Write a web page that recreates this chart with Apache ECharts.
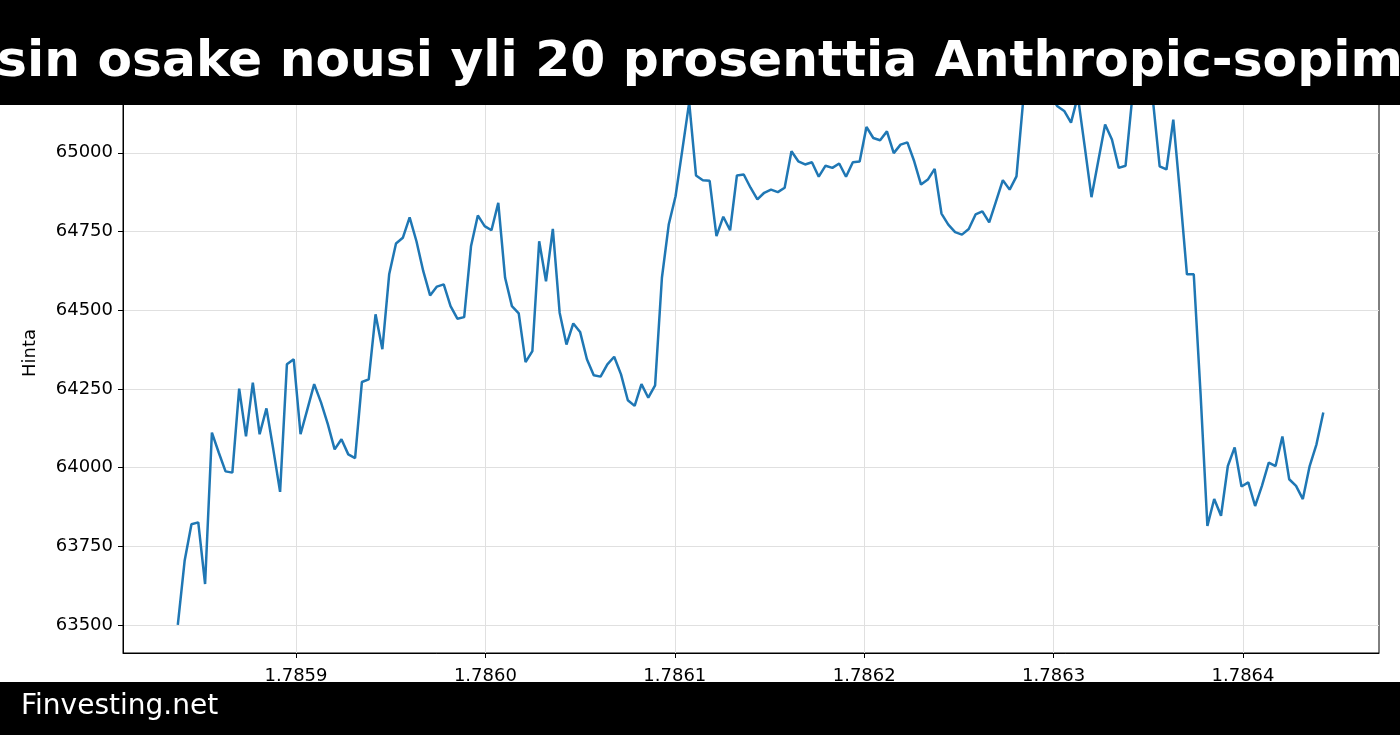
<!DOCTYPE html>
<html>
<head>
<meta charset="utf-8">
<script src="https://cdn.jsdelivr.net/npm/echarts@6/dist/echarts.min.js"></script>
<style>
html,body{margin:0;padding:0;background:#fff;}
#c{width:1400px;height:735px;}
</style>
</head>
<body>
<div id="c"></div>
<script>
// Hourly timestamps (seconds), one week
const START_TS = 1785837600;
const STEP_S = 3600;
const prices = [
63500,63704,63820,63826,63630,64111,64048,63988,63984,64251,
64099,64270,64106,64188,64058,63923,64328,64344,64106,64185,
64265,64207,64138,64058,64090,64042,64030,64272,64280,64487,
64376,64614,64712,64730,64795,64719,64624,64547,64575,64582,
64513,64473,64478,64703,64801,64767,64754,64841,64603,64513,
64490,64335,64370,64719,64592,64758,64492,64391,64458,64431,
64344,64293,64289,64328,64352,64296,64214,64196,64265,64222,
64261,64603,64772,64862,65010,65160,64928,64913,64911,64735,
64797,64754,64928,64931,64889,64852,64873,64883,64875,64889,
65005,64973,64963,64970,64924,64959,64952,64966,64924,64970,
64972,65082,65047,65040,65068,64999,65026,65033,64973,64899,
64915,64949,64807,64772,64748,64740,64758,64804,64814,64779,
64846,64913,64883,64925,65170,65230,65210,65190,65180,65148,
65133,65096,65180,65021,64859,64975,65090,65042,64952,64959,
65180,65220,65200,65170,64957,64947,65105,64867,64614,64614,
64234,63815,63900,63847,64005,64064,63940,63953,63878,63942,
64016,64005,64099,63963,63942,63900,64005,64074,64175
];
const xTicks = [1785900000,1786000000,1786100000,1786200000,1786300000,1786400000];
const yTicks = [63500,63750,64000,64250,64500,64750,65000,65250];
const titleText = 'sin osake nousi yli 20 prosenttia Anthropic-sopim';
const footerText = 'Finvesting.net';
const yName = 'Hinta';

const seriesData = prices.map((p, i) => [START_TS + i * STEP_S, p]);

const FONT = 'DejaVu Sans';
const chart = echarts.init(document.getElementById('c'), null, {renderer: 'canvas'});
chart.setOption({
  backgroundColor: '#ffffff',
  animation: false,
  grid: {left: 123, right: 21, top: 53, bottom: 82, show: true, borderColor: '#000', borderWidth: 1, backgroundColor: 'transparent'},
  xAxis: {
    type: 'value',
    min: 1785808659,
    max: 1786471806,
    axisLine: {show: true, lineStyle: {color: '#000', width: 1}},
    axisTick: {show: true, length: 5, lineStyle: {color: '#000', width: 1}, customValues: xTicks},
    axisLabel: {show: true, customValues: xTicks, margin: 14, color: '#000', fontFamily: FONT, fontSize: 18,
      formatter: v => (v / 1e9).toFixed(4)},
    splitLine: {show: true, lineStyle: {color: '#e0e0e0', width: 1}}
  },
  yAxis: {
    type: 'value',
    min: 63411,
    max: 65317,
    name: yName,
    nameLocation: 'middle',
    nameGap: 84,
    nameTextStyle: {color: '#000', fontFamily: FONT, fontSize: 18},
    axisLine: {show: true, lineStyle: {color: '#000', width: 1}},
    axisTick: {show: true, length: 5, lineStyle: {color: '#000', width: 1}, customValues: yTicks},
    axisLabel: {show: true, customValues: yTicks, margin: 10, color: '#000', fontFamily: FONT, fontSize: 18,
      formatter: v => String(Math.round(v))},
    splitLine: {show: true, lineStyle: {color: '#e0e0e0', width: 1}}
  },
  series: [{
    type: 'line',
    data: seriesData,
    showSymbol: false,
    symbol: 'none',
    lineStyle: {color: '#1f77b4', width: 2.5},
    z: 2
  }],
  graphic: [
    {type: 'rect', z: 100, shape: {x: 0, y: 0, width: 1400, height: 105}, style: {fill: '#000'}},
    {type: 'text', z: 101, left: -3, top: 38, style: {text: titleText, fill: '#fff', font: 'bold 50.3px "DejaVu Sans"'}},
    {type: 'rect', z: 100, shape: {x: 0, y: 682, width: 1400, height: 53}, style: {fill: '#000'}},
    {type: 'text', z: 101, left: 21, top: 693, style: {text: footerText, fill: '#fff', font: '28px "DejaVu Sans"'}}
  ]
});
</script>
</body>
</html>
